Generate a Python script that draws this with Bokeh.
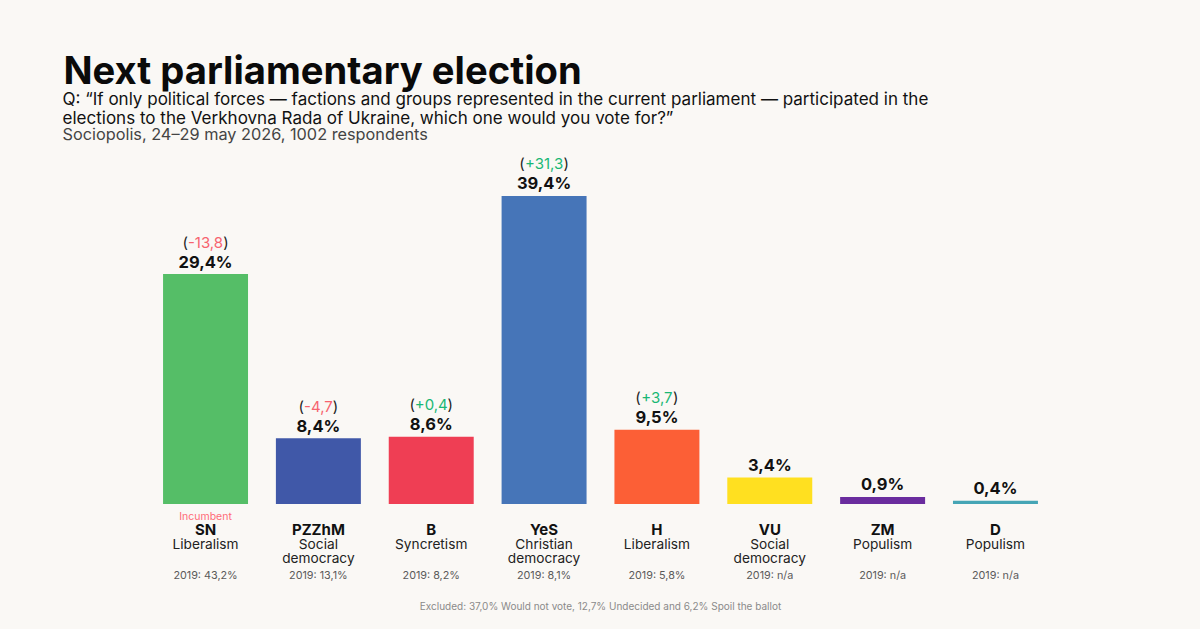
from bokeh.core.properties import value as fixed
from bokeh.embed import file_html
from bokeh.resources import INLINE
from bokeh.models import ColumnDataSource, FactorRange, Range1d, Label
from bokeh.plotting import figure

parties = ["SN", "PZZhM", "B", "YeS", "H", "VU", "ZM", "D"]
ideology_line1 = ["Liberalism", "Social", "Syncretism", "Christian", "Liberalism", "Social", "Populism", "Populism"]
ideology_line2 = ["", "democracy", "", "democracy", "", "democracy", "", ""]
values = [29.4, 8.4, 8.6, 39.4, 9.5, 3.4, 0.9, 0.4]
changes = ["-13,8", "-4,7", "+0,4", "+31,3", "+3,7", "", "", ""]
past_2019 = ["43,2%", "13,1%", "8,2%", "8,1%", "5,8%", "n/a", "n/a", "n/a"]
bar_colors = ["#55BE67", "#4058A8", "#EF3E54", "#4675B8", "#FC5F36", "#FFE020", "#6A2C9E", "#45A5B5"]

title = "Next parliamentary election"
question = ["Q: \u201cIf only political forces \u2014 factions and groups represented in the current parliament \u2014 participated in the",
            "elections to the Verkhovna Rada of Ukraine, which one would you vote for?\u201d"]
source_line = "Sociopolis, 24\u201329 may 2026, 1002 respondents"
footer = "Excluded: 37,0% Would not vote, 12,7% Undecided and 6,2% Spoil the ballot"

BG = "#FAF8F5"
FONT = fixed("Inter")
W, H = 1200, 629
PX_PER_UNIT = 7.82
BASE_FROM_BOTTOM = 125.5  # px between the frame bottom and the zero line

def char_w(c):
    return {",": 4, "-": 6, "+": 9.5, "1": 6.5}.get(c, 9.4)

def half_w(s):
    return sum(char_w(c) for c in s) / 2

src = ColumnDataSource(dict(
    party=parties, value=values, color=bar_colors,
    line1=ideology_line1, line2=ideology_line2,
    value_text=[f"{v:.1f}%".replace(".", ",") for v in values],
    past=[f"2019: {s}" for s in past_2019],
    zero=[0] * len(parties),
))

p = figure(width=W, height=H, output_backend="svg", toolbar_location=None,
           x_range=FactorRange(factors=parties, range_padding=1.317, range_padding_units="absolute"),
           y_range=Range1d(-BASE_FROM_BOTTOM / PX_PER_UNIT, (H - BASE_FROM_BOTTOM) / PX_PER_UNIT),
           min_border=0, background_fill_color=BG, border_fill_color=BG, outline_line_color=None)
p.axis.visible = False
p.grid.visible = False

p.vbar(x="party", top="value", bottom=0, width=0.753, fill_color="color", line_color=None, source=src)

common = dict(source=src, text_font=FONT, text_align="center", text_baseline="middle")
p.text(x="party", y="value", text="value_text", y_offset=-12.5, text_font_size="16.5px",
       text_font_style="bold", text_color="#111111", **common)
p.text(x="party", y="zero", text="party", y_offset=25, text_font_size="15px", text_font_style="bold",
       text_color="#111111", **common)
p.text(x="party", y="zero", text="line1", y_offset=40, text_font_size="13.7px", text_color="#222222", **common)
p.text(x="party", y="zero", text="line2", y_offset=54, text_font_size="13.7px", text_color="#222222", **common)
p.text(x="party", y="zero", text="past", y_offset=71, text_font_size="10.8px", text_color="#5A5A5A", **common)
p.text(x=[parties[0]], y=[0], text=["Incumbent"], y_offset=12, text_font_size="10.5px", text_color="#FF6B78",
       text_font=FONT, text_align="center", text_baseline="middle")

# change labels: coloured number between black brackets
for party, value, ch in zip(parties, values, changes):
    if not ch:
        continue
    col = "#F7636F" if ch.startswith("-") else "#19B774"
    hw = half_w(ch)
    kw = dict(x=[party], y=[value], y_offset=-32, text_font=FONT, text_font_size="15px",
              text_baseline="middle")
    p.text(text=[ch], text_color=col, text_align="center", **kw)
    p.text(text=["("], text_color="#222222", text_align="right", x_offset=-hw, **kw)
    p.text(text=[")"], text_color="#222222", text_align="left", x_offset=hw, **kw)

def header(text, left, mid_from_top, size, color, style="normal", align="left"):
    p.add_layout(Label(x=left, y=H - mid_from_top, x_units="screen", y_units="screen", text=text,
                       text_font="Inter", text_font_size=size, text_color=color, text_font_style=style,
                       text_align=align, text_baseline="middle"))

header(title, 63, 69, "38.2px", "#0A0A0A", "bold")
header(question[0], 62, 98, "17.05px", "#111111")
header(question[1], 62, 117, "17.05px", "#111111")
header(source_line, 62, 133, "16.3px", "#444444")
header(footer, 600, 605, "10px", "#8A8A8A", align="center")

html = file_html(p, INLINE)
html = html.replace("<head>", f"<head><style>html,body{{background:{BG};}}</style>", 1)
open("out.html", "w").write(html)
